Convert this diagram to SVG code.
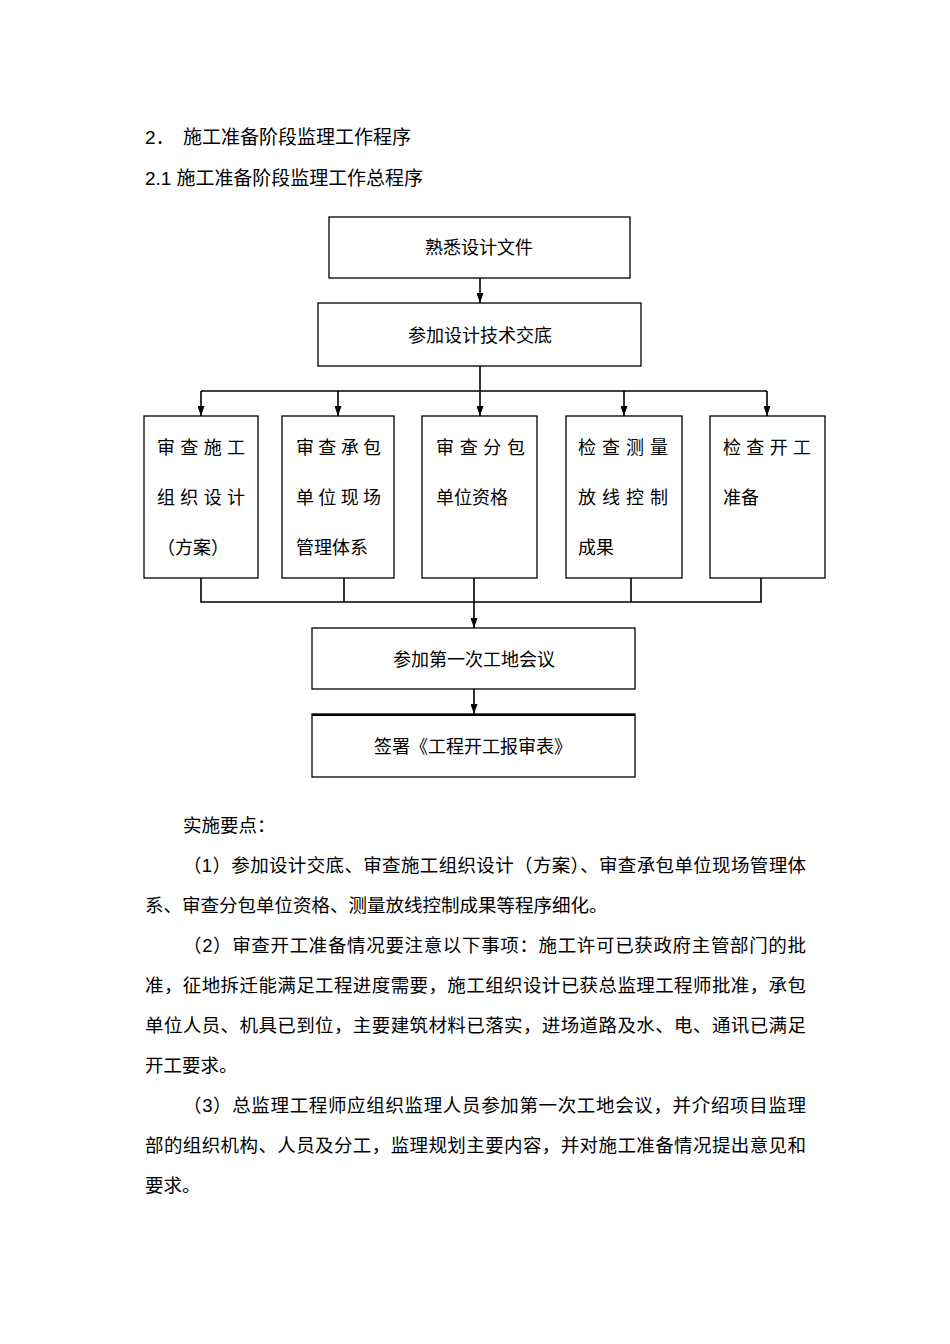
<svg xmlns="http://www.w3.org/2000/svg" width="950" height="1344" viewBox="0 0 950 1344">
<style>
text{font-family:"Liberation Sans","Noto Sans CJK SC",sans-serif;fill:#000}
.h{font-size:19px}
.b{font-size:18.5px}
.n{font-size:18px}
.c{text-anchor:middle}
.box{fill:#fff;stroke:#000;stroke-width:1.3}
.ln{fill:none;stroke:#000;stroke-width:1.6}
</style>
<defs>
<marker id="arr" viewBox="0 0 10 7" refX="10" refY="3.5" markerWidth="10" markerHeight="7" markerUnits="userSpaceOnUse" orient="auto">
<path d="M0,0 L10,3.5 L0,7 z" fill="#000"/>
</marker>
</defs>
<rect width="950" height="1344" fill="#fff"/>

<g id="headings">
<text class="h" x="145" y="144">2．</text>
<text class="h" x="183" y="144">施工准备阶段监理工作程序</text>
<text class="h" x="145" y="185" textLength="278" lengthAdjust="spacing">2.1 施工准备阶段监理工作总程序</text>
</g>

<g id="connectors">
<path class="ln" d="M480,278 V303" marker-end="url(#arr)"/>
<path class="ln" d="M480,366 V416" marker-end="url(#arr)"/>
<path class="ln" d="M201,391 H767"/>
<path class="ln" d="M201,391 V416" marker-end="url(#arr)"/>
<path class="ln" d="M338,391 V416" marker-end="url(#arr)"/>
<path class="ln" d="M624,391 V416" marker-end="url(#arr)"/>
<path class="ln" d="M767,391 V416" marker-end="url(#arr)"/>
<path class="ln" d="M201,578 V602 H761 V578"/>
<path class="ln" d="M344,578 V602"/>
<path class="ln" d="M631,578 V602"/>
<path class="ln" d="M474,578 V628" marker-end="url(#arr)"/>
<path class="ln" d="M474,689 V714" marker-end="url(#arr)"/>
</g>

<g id="n1">
<rect class="box" x="329" y="217" width="301" height="61"/>
<text class="n c" x="479" y="254">熟悉设计文件</text>
</g>
<g id="n2">
<rect class="box" x="318" y="303" width="323" height="63"/>
<text class="n c" x="480" y="342">参加设计技术交底</text>
</g>
<g id="n3">
<rect class="box" x="144" y="416" width="114" height="162"/>
<text class="n" x="157" y="454" textLength="88" lengthAdjust="spacing">审查施工</text>
<text class="n" x="157" y="504" textLength="88" lengthAdjust="spacing">组织设计</text>
<text class="n" x="157" y="554">（方案）</text>
</g>
<g id="n4">
<rect class="box" x="282" y="416" width="112" height="162"/>
<text class="n" x="296" y="454" textLength="85" lengthAdjust="spacing">审查承包</text>
<text class="n" x="296" y="504" textLength="85" lengthAdjust="spacing">单位现场</text>
<text class="n" x="296" y="554">管理体系</text>
</g>
<g id="n5">
<rect class="box" x="422" y="416" width="115" height="162"/>
<text class="n" x="436" y="454" textLength="89" lengthAdjust="spacing">审查分包</text>
<text class="n" x="436" y="504">单位资格</text>
</g>
<g id="n6">
<rect class="box" x="566" y="416" width="116" height="162"/>
<text class="n" x="578" y="454" textLength="90" lengthAdjust="spacing">检查测量</text>
<text class="n" x="578" y="504" textLength="90" lengthAdjust="spacing">放线控制</text>
<text class="n" x="578" y="554">成果</text>
</g>
<g id="n7">
<rect class="box" x="710" y="416" width="115" height="162"/>
<text class="n" x="723" y="454" textLength="88" lengthAdjust="spacing">检查开工</text>
<text class="n" x="723" y="504">准备</text>
</g>
<g id="n8">
<rect class="box" x="312" y="628" width="323" height="61"/>
<text class="n c" x="474" y="666">参加第一次工地会议</text>
</g>
<g id="n9">
<rect class="box" x="312" y="714" width="323" height="63"/>
<path d="M312,715 H635" stroke="#000" stroke-width="2"/>
<text class="n c" x="473" y="753">签署《工程开工报审表》</text>
</g>

<g id="body">
<text class="b" x="183" y="832">实施要点：</text>
<text class="b" x="183" y="872" textLength="623" lengthAdjust="spacing">（1）参加设计交底、审查施工组织设计（方案）、审查承包单位现场管理体</text>
<text class="b" x="145" y="912">系、审查分包单位资格、测量放线控制成果等程序细化。</text>
<text class="b" x="183" y="952" textLength="623" lengthAdjust="spacing">（2）审查开工准备情况要注意以下事项：施工许可已获政府主管部门的批</text>
<text class="b" x="145" y="992" textLength="661" lengthAdjust="spacing">准，征地拆迁能满足工程进度需要，施工组织设计已获总监理工程师批准，承包</text>
<text class="b" x="145" y="1032" textLength="661" lengthAdjust="spacing">单位人员、机具已到位，主要建筑材料已落实，进场道路及水、电、通讯已满足</text>
<text class="b" x="145" y="1072">开工要求。</text>
<text class="b" x="183" y="1112" textLength="623" lengthAdjust="spacing">（3）总监理工程师应组织监理人员参加第一次工地会议，并介绍项目监理</text>
<text class="b" x="145" y="1152" textLength="661" lengthAdjust="spacing">部的组织机构、人员及分工，监理规划主要内容，并对施工准备情况提出意见和</text>
<text class="b" x="145" y="1192">要求。</text>
</g>
</svg>
